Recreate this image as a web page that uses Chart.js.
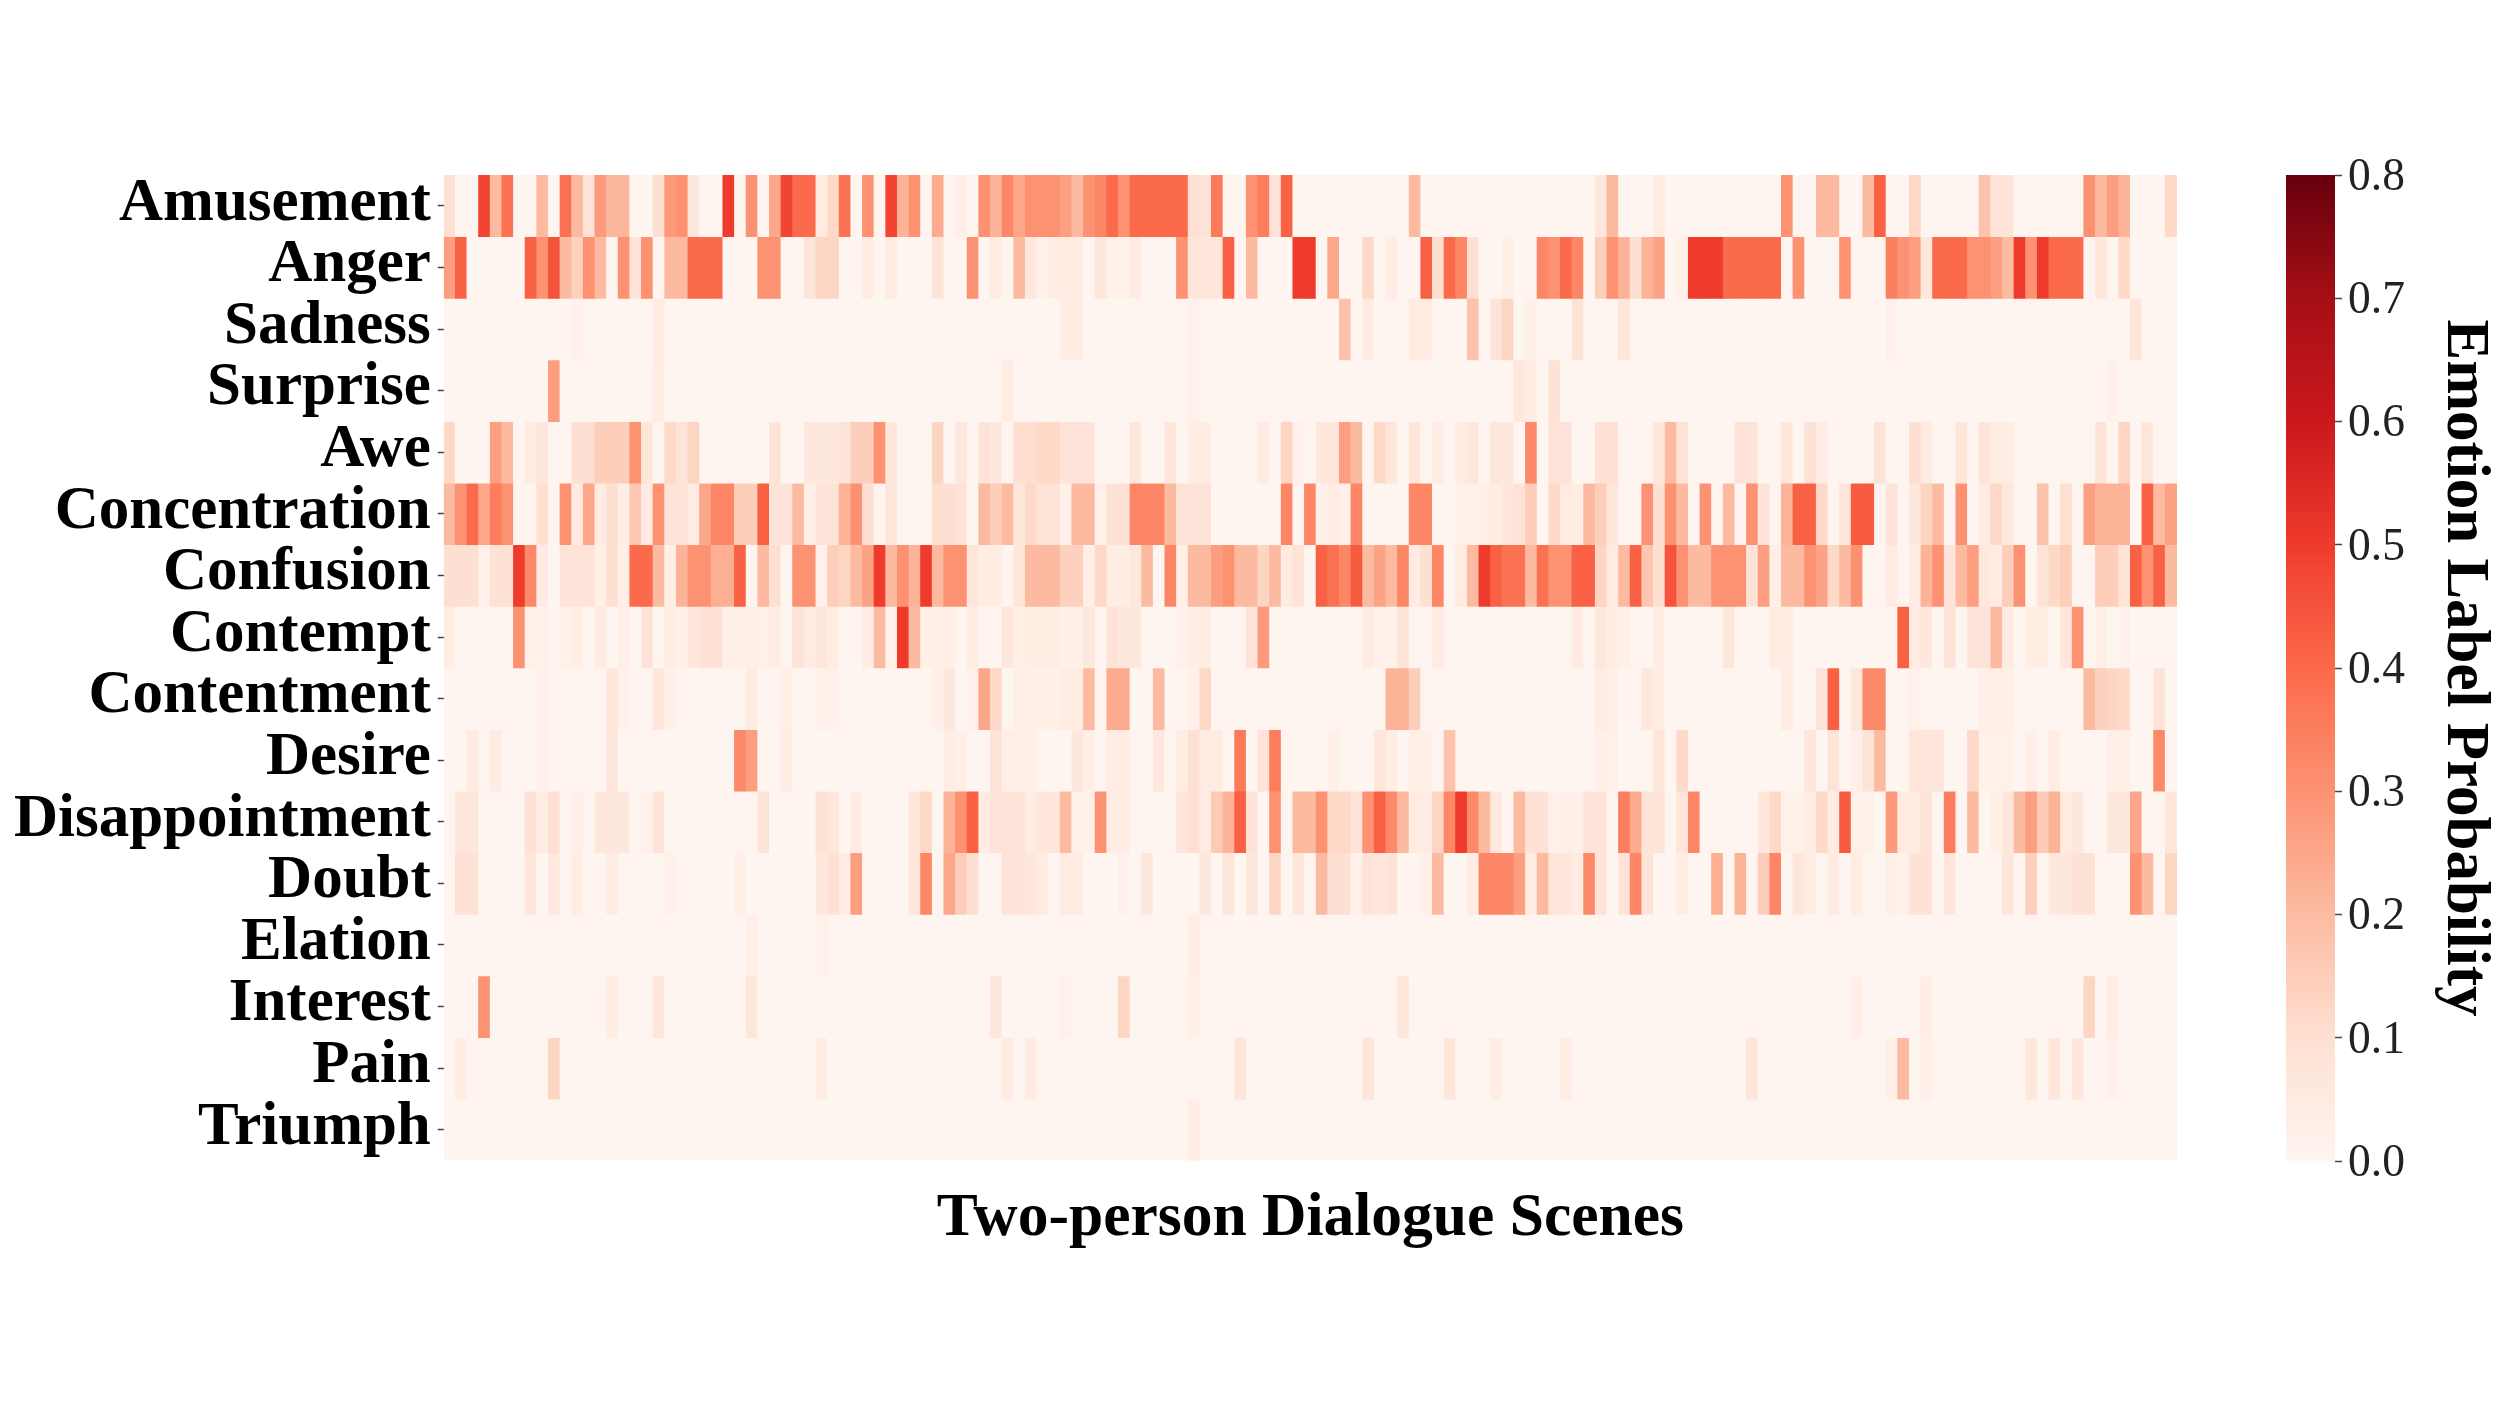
<!DOCTYPE html>
<html>
<head>
<meta charset="utf-8">
<title>Emotion Label Probability</title>
<script src="https://cdn.jsdelivr.net/npm/chart.js@4"></script>
<style>
html,body{margin:0;padding:0;background:#fff;width:2500px;height:1406px;overflow:hidden}
canvas{position:absolute;top:0}
#heat{left:0}
#bar{left:2200px}
</style>
</head>
<body>
<canvas id="heat" width="2200" height="1406"></canvas>
<canvas id="bar" width="300" height="1406"></canvas>
<script>
const emotionLabels = ["Amusement","Anger","Sadness","Surprise","Awe","Concentration","Confusion","Contempt","Contentment","Desire","Disappointment","Doubt","Elation","Interest","Pain","Triumph"];
const xTitle = "Two-person Dialogue Scenes";
const barTitle = "Emotion Label Probability";
const barTicks = [0,0.1,0.2,0.3,0.4,0.5,0.6,0.7,0.8];
const redsStops = ["#fff5f0","#fee0d2","#fcbba1","#fc9272","#fb6a4a","#ef3b2c","#cb181d","#a50f15","#67000d"];

const amusement = [
.1,0,0,.48,.2,.38,0,0,.2,0,
.38,.2,.08,.28,.21,.21,0,0,.1,.28,
.3,.06,0,0,.5,0,.3,0,.25,.48,
.4,.4,.05,.12,.38,0,.3,0,.48,.22,
.3,0,.24,0,.03,0,.3,.22,.33,.25,
.3,.3,.3,.27,.2,.3,.33,.4,.3,.4,
.4,.4,.4,.4,.1,.08,.36,0,0,.3,
.35,.08,.42,0,0,0,0,0,0,0,
0,0,0,.2,0,0,0,0,0,0,
0,0,0,0,0,0,0,0,0,.06,
.2,0,0,0,.05,0,0,0,0,0,
0,0,0,0,0,.3,0,0,.2,.2,
0,0,.2,.42,0,0,.12,0,0,0,
0,0,.18,.08,.08,0,0,0,0,0,
0,.3,.2,.27,.22,0,0,0,.12];
const anger = [
.27,.42,0,0,0,0,0,.42,.3,.45,
.2,.14,.3,.2,0,.3,.08,.3,0,.2,
.2,.4,.4,.4,0,0,0,.3,.3,0,
0,.08,.13,.13,0,0,.05,0,.05,0,
0,0,.08,0,0,.3,0,.05,0,.2,
.06,.02,.04,.05,.05,0,.07,.02,.02,.05,
0,0,0,.3,.07,.07,.07,.42,0,.2,
0,0,0,.5,.5,0,.25,0,0,.12,
0,.04,0,0,.42,.1,.4,.33,.1,0,
0,.03,0,0,.33,.3,.4,.33,0,.15,
.3,.22,.1,.22,.26,0,.03,.5,.5,.5,
.4,.4,.4,.4,.4,0,.3,0,0,0,
.3,0,0,0,.35,.3,.27,.06,.4,.4,
.4,.3,.3,.27,.2,.5,.3,.5,.4,.4,
.4,0,.07,0,.12,0,0,0,0];
const sadness = [
0,0,0,0,0,0,0,0,0,0,
0,.02,0,0,0,0,0,0,.05,0,
0,0,0,0,0,0,0,0,0,0,
0,0,0,0,0,0,0,0,0,0,
0,0,0,0,0,0,0,0,0,0,
0,0,0,.04,.04,0,0,0,0,0,
0,0,0,0,.02,0,0,0,0,0,
0,0,0,0,0,0,0,.18,0,.05,
0,0,0,.05,.05,0,0,0,.18,0,
.08,.13,0,.03,0,0,0,.08,0,0,
0,.07,0,0,0,0,0,0,0,0,
0,0,0,0,0,0,0,0,0,0,
0,0,0,0,.02,0,0,0,0,0,
0,0,0,0,0,0,0,0,0,0,
0,0,0,0,0,.07,0,0,0];
const surprise = [
0,0,0,0,0,0,0,0,0,.27,
0,0,0,0,0,0,0,0,.04,0,
0,0,0,0,0,0,0,0,0,0,
0,0,0,0,0,0,0,0,0,0,
0,0,0,0,0,0,0,0,.04,0,
0,0,0,0,0,0,0,0,0,0,
0,0,0,0,.02,0,0,0,0,0,
0,0,0,0,0,0,0,0,0,0,
0,0,0,0,0,0,0,0,0,0,
0,0,.06,.04,0,.09,0,0,0,0,
0,0,0,0,0,0,0,0,0,0,
0,0,0,0,0,0,0,0,0,0,
0,0,0,0,0,0,0,0,0,0,
0,0,0,0,0,0,0,0,0,0,
0,0,0,.02,0,0,0,0,0];
const awe = [
.12,0,0,0,.27,.2,0,.05,.07,0,
0,.1,.1,.15,.15,.15,.3,.07,0,.12,
.08,.13,0,0,0,0,0,0,.08,0,
0,.06,.06,.06,.08,.15,.15,.3,.06,0,
0,0,.13,0,.06,0,.08,.06,0,.1,
.1,.12,.12,.08,.08,.08,0,0,0,.07,
0,0,.07,0,.04,.04,0,0,0,0,
.05,0,.13,.02,0,.06,.07,.27,.2,0,
.12,.07,0,.07,0,.04,0,.05,.07,0,
.07,.06,0,.32,0,.08,.08,0,0,.09,
.09,0,0,0,.07,.2,.08,0,0,0,
0,.08,.08,0,0,.07,0,.09,.05,0,
0,0,0,.08,0,0,.1,.05,0,0,
.07,0,.08,.04,.04,0,0,0,0,0,
0,0,.08,0,.13,0,.07,0,0];
const concentration = [
.2,.3,.4,.25,.35,.3,0,0,.1,0,
.3,.05,.25,.05,.1,.04,.17,.05,.3,.08,
.08,.05,.25,.33,.33,.15,.15,.42,.08,.08,
.2,.03,.08,.08,.22,.3,.1,0,.07,0,
0,0,.1,.1,.08,0,.2,.15,.2,.07,
.12,.08,.08,.02,.2,.2,.02,.09,.09,.33,
.33,.33,.2,.08,.08,.08,0,0,0,0,
0,0,.33,0,.33,.02,.05,.02,.33,0,
0,0,0,.33,.33,0,0,.02,.02,.03,
.04,.07,.08,.15,0,.12,.05,.04,.2,.15,
.07,0,0,.3,.1,.3,.2,0,.3,0,
.2,0,.3,.08,0,.22,.42,.42,.12,0,
.07,.43,.43,0,.08,0,.06,.13,.2,0,
.3,0,.05,.12,.06,0,0,.18,0,.1,
0,.27,.22,.22,.22,0,.42,.2,.26];
const confusion = [
.1,.1,.1,.02,.09,.09,.5,.32,.05,0,
.08,.08,.08,.03,.1,.03,.4,.4,.2,.03,
.22,.3,.3,.23,.23,.42,0,.2,.1,0,
.3,.3,.02,.15,.13,.2,.26,.5,.2,.3,
.22,.5,.2,.3,.3,.07,.04,.04,0,.07,
.2,.2,.2,.14,.14,.03,.12,.04,.04,.06,
.2,0,.33,.03,.2,.2,.27,.3,.2,.2,
.13,.2,.05,.08,0,.42,.38,.33,.43,.2,
.26,.2,.33,.05,.1,.33,0,.05,.2,.5,
.42,.38,.38,.2,.38,.3,.3,.42,.42,.13,
.05,.2,.42,.17,.1,.45,.3,.2,.2,.3,
.3,.3,.08,.27,.03,.2,.2,.3,.26,.12,
.2,.3,0,0,.05,0,.04,.22,.3,.08,
.2,.27,.06,.05,.15,.3,0,.08,.12,.15,
0,0,.15,.15,.08,.42,.3,.42,.2];
const contempt = [
.04,0,0,0,0,0,.3,.02,.02,0,
.02,.04,0,.05,0,.03,0,.08,0,.04,
.02,.06,.09,.09,.02,.03,.03,.02,.04,0,
.08,.05,.07,.04,0,0,.04,.2,.02,.5,
.2,.03,.03,.03,0,.04,0,0,.07,.03,
.04,.04,.04,.03,.03,.06,0,.08,.06,.06,
0,0,0,.02,.04,.04,0,0,0,.08,
.28,0,0,0,0,0,0,0,0,.05,
.02,.02,.08,0,0,.05,0,0,0,0,
0,0,0,0,0,0,0,.05,0,.06,
.04,.03,0,0,.04,0,0,0,0,0,
.07,0,0,0,.05,.05,0,0,0,0,
0,0,0,0,0,.42,.05,.06,0,.08,
0,.08,.08,.2,.05,0,.04,.04,0,.07,
.3,0,.03,0,.02,0,0,0,0];
const contentment = [
0,0,0,0,0,0,0,0,.02,0,
0,0,0,0,.07,.02,0,0,.07,.02,
0,0,0,0,0,0,.05,0,0,.03,
0,0,.02,.02,0,0,0,0,0,0,
0,0,.03,.06,0,.02,.25,.12,0,.03,
.03,.03,.03,.04,.04,.2,0,.24,.24,0,
0,.2,0,0,.02,.12,0,0,0,0,
0,0,0,0,0,0,0,0,0,0,
0,.22,.22,.15,0,0,0,0,0,0,
0,0,0,0,0,0,0,0,0,.05,
.03,0,0,.06,.04,0,0,0,0,0,
0,0,0,0,0,.05,0,0,.08,.42,
0,.07,.32,.32,0,0,.02,0,0,0,
0,0,.03,.03,.03,0,0,0,0,0,
0,.2,.14,.13,.12,0,0,.08,0];
const desire = [
0,0,.05,0,.05,0,0,0,.02,0,
0,0,0,0,.07,0,0,0,0,0,
0,0,0,0,0,.32,.27,0,0,.04,
0,0,0,0,0,0,0,0,0,0,
0,0,0,.04,.03,0,0,.08,.03,.03,
.03,0,0,0,.06,.03,0,.04,.04,0,
0,.06,0,.04,.1,.05,.05,0,.36,0,
.08,.35,0,0,0,0,.03,0,0,0,
.07,.04,0,.03,.03,0,.18,0,0,0,
0,0,0,0,0,0,0,0,0,.03,
.02,0,0,0,.07,0,.12,0,0,0,
0,0,0,0,0,0,0,.07,0,.08,
0,.03,.08,.2,0,0,.07,.07,.07,0,
0,.12,.02,.02,.02,0,.03,0,.04,0,
0,0,0,.03,.03,0,0,.32,0];
const disappointment = [
0,.07,.07,0,0,0,0,.09,.04,.1,
0,.03,0,.06,.06,.06,0,.02,.08,0,
0,0,0,0,0,0,0,.08,0,0,
0,0,.09,.07,0,.05,0,0,0,0,
.07,.12,0,.22,.3,.42,.05,.08,.08,.08,
.04,.07,.07,.2,.02,.02,.3,.04,.04,0,
0,0,0,.07,.1,.05,.16,.22,.42,.08,
0,.3,0,.2,.2,.3,.12,.12,.08,.3,
.42,.32,.2,.05,.05,.13,.33,.5,.32,.2,
.06,0,.2,.09,.09,.02,.03,.02,.08,.08,
0,.35,.24,.08,.08,0,.07,.33,0,0,
0,0,0,.07,.12,.02,.02,.04,.12,.05,
.43,.02,.02,0,.28,.05,.04,.08,0,.35,
0,.2,0,.03,.07,.2,.27,.16,.22,.05,
.06,0,0,.06,.06,.25,0,0,.07];
const doubt = [
0,.09,.09,0,0,0,0,.07,0,.06,
0,.04,0,0,.05,0,0,0,0,.02,
0,0,0,0,0,.03,0,0,0,0,
0,0,.06,.1,.04,.27,0,0,0,0,
.07,.33,0,.25,.15,.1,0,0,.08,.08,
.07,.05,0,.05,.05,0,0,0,.02,0,
.06,0,0,0,0,.06,0,.07,0,.07,
0,.13,0,.07,0,.2,.1,.1,.02,.08,
.06,.08,0,0,.03,.2,0,0,.04,.33,
.33,.33,.27,.04,.2,.07,.07,.05,.32,.08,
0,.08,.33,.08,0,0,.04,0,0,.23,
0,.22,0,.15,.33,0,.07,.04,0,.05,
0,.04,0,0,.03,.02,.09,.09,0,.07,
0,0,0,0,.07,0,.14,0,.06,.06,
.09,.09,0,0,0,.3,.2,0,.13];
const elation = [
0,0,0,0,0,0,0,0,0,0,
0,.01,0,0,0,0,0,0,.01,0,
0,0,0,0,0,0,.03,0,0,0,
0,0,.02,0,0,0,0,0,0,0,
0,0,0,0,0,0,0,0,0,0,
0,0,0,0,0,0,0,0,0,0,
0,0,0,0,.04,0,0,0,0,0,
0,0,0,0,0,0,0,0,0,0,
0,0,0,0,0,0,0,0,0,0,
0,0,0,0,0,0,0,0,0,0,
0,0,0,0,0,0,0,0,0,0,
0,0,0,0,0,0,0,0,0,0,
0,0,0,0,0,0,0,0,0,0,
0,0,0,0,0,0,0,0,0,0,
0,0,0,0,0,0,0,0,0];
const interest = [
0,0,0,.3,0,0,0,0,0,0,
0,0,0,0,.04,0,0,0,.07,0,
0,0,0,0,0,0,.07,0,0,0,
0,0,0,0,0,0,0,0,0,0,
0,0,0,0,0,0,0,.07,0,0,
0,0,0,.02,0,0,0,0,.13,0,
0,0,0,0,.03,0,0,0,0,0,
0,0,0,0,0,0,0,0,0,0,
0,0,.07,0,0,0,0,0,0,0,
0,0,0,0,0,0,0,0,0,0,
0,0,0,0,0,0,0,0,0,0,
0,0,0,0,0,0,0,0,0,0,
0,.03,0,0,0,0,0,.04,0,0,
0,0,0,0,0,0,0,0,0,0,
0,.13,0,.04,0,0,0,0,0];
const pain = [
0,.04,0,0,0,0,0,0,0,.13,
0,0,0,0,0,0,0,0,0,0,
0,0,0,0,0,0,0,0,0,0,
0,0,.04,0,0,0,0,0,0,0,
0,0,0,0,0,0,0,0,.05,0,
.05,0,0,0,0,0,0,0,0,0,
0,0,0,0,0,0,0,0,.07,0,
0,0,0,0,0,0,0,0,0,.07,
0,0,0,0,0,0,.07,0,0,0,
.04,0,0,0,0,0,.04,0,0,0,
0,0,0,0,0,0,0,0,0,0,
0,0,.07,0,0,0,0,0,0,0,
0,0,0,0,.03,.2,0,.03,0,0,
0,0,0,0,0,0,.07,0,.07,0,
.07,0,0,.02,0,0,0,0,0];
const triumph = [
0,0,0,0,0,0,0,0,0,0,
0,0,0,0,0,0,0,0,0,0,
0,0,0,0,0,0,0,0,0,0,
0,0,0,0,0,0,0,0,0,0,
0,0,0,0,0,0,0,0,0,0,
0,0,0,0,0,0,0,0,0,0,
0,0,0,0,.04,0,0,0,0,0,
0,0,0,0,0,0,0,0,0,0,
0,0,0,0,0,0,0,0,0,0,
0,0,0,0,0,0,0,0,0,0,
0,0,0,0,0,0,0,0,0,0,
0,0,0,0,0,0,0,0,0,0,
0,0,0,0,0,0,0,0,0,0,
0,0,0,0,0,0,0,0,0,0,
0,0,0,0,0,0,0,0,0];

const rows = [amusement,anger,sadness,surprise,awe,concentration,confusion,contempt,contentment,desire,disappointment,doubt,elation,interest,pain,triumph];
rows.forEach((r,i)=>{ if(r.length!==149) throw new Error(emotionLabels[i]+" has "+r.length); });
const scenes = amusement.map((_,i)=>String(i+1));

function hexRgb(h){ return [1,3,5].map(i=>parseInt(h.substr(i,2),16)); }
function reds(v){
  const t = Math.max(0,Math.min(1,v/0.8))*(redsStops.length-1);
  const i = Math.min(Math.floor(t),redsStops.length-2), f = t-i;
  const a = hexRgb(redsStops[i]), b = hexRgb(redsStops[i+1]);
  return "rgb("+a.map((c,k)=>Math.round(c+(b[k]-c)*f)).join(",")+")";
}

const SERIF = "'Liberation Serif','Times New Roman',serif";
Chart.defaults.animation = false;
Chart.defaults.responsive = false;

new Chart(document.getElementById("heat"),{
  type:"bar",
  data:{
    labels:scenes,
    datasets:rows.map((vals,r)=>({
      label:emotionLabels[r],
      data:vals.map(()=>[r,r+1]),
      backgroundColor:vals.map(reds),
      borderWidth:0,
      inflateAmount:0.5,
      grouped:false,
      barPercentage:1,
      categoryPercentage:1
    }))
  },
  options:{
    layout:{autoPadding:false,padding:{left:0,right:23,top:175,bottom:150.4}},
    plugins:{legend:{display:false},tooltip:{enabled:false},title:{display:false}},
    scales:{
      x:{
        type:"category",
        grid:{display:false},
        border:{display:false},
        ticks:{display:false},
        title:{display:true,text:xTitle,color:"#000",padding:0,font:{family:SERIF,size:61.5,weight:"bold"}},
        afterFit(s){ s.height=95; }
      },
      y:{
        type:"linear",
        min:0,max:emotionLabels.length,reverse:true,
        grid:{display:true,drawOnChartArea:false,drawTicks:true,tickLength:6,tickWidth:1.5,tickColor:"#444"},
        border:{display:false},
        afterBuildTicks(s){ s.ticks=emotionLabels.map((_,i)=>({value:i+0.5})); },
        ticks:{
          autoSkip:false,color:"#000",padding:7,labelOffset:-2,
          font:{family:SERIF,size:61,weight:"bold"},
          callback(v){ return emotionLabels[Math.round(v-0.5)]; }
        },
        afterFit(s){ s.width=443.8; }
      }
    }
  }
});

new Chart(document.getElementById("bar"),{
  type:"bar",
  data:{
    labels:["scale"],
    datasets:[{
      data:[[barTicks[0],barTicks[barTicks.length-1]]],
      borderWidth:0,
      barPercentage:1,
      categoryPercentage:1,
      backgroundColor(ctx){
        const a=ctx.chart.chartArea;
        if(!a) return redsStops[0];
        const g=ctx.chart.ctx.createLinearGradient(0,a.bottom,0,a.top);
        redsStops.forEach((c,i)=>g.addColorStop(i/(redsStops.length-1),c));
        return g;
      }
    }]
  },
  options:{
    layout:{autoPadding:false,padding:{left:86,right:0,top:175,bottom:245}},
    plugins:{legend:{display:false},tooltip:{enabled:false},title:{display:false}},
    scales:{
      x:{display:false},
      y:{
        position:"right",min:0,max:0.8,
        grid:{display:true,drawOnChartArea:false,drawTicks:true,tickLength:7,tickWidth:1.5,tickColor:"#444"},
        border:{display:false},
        afterBuildTicks(s){ s.ticks=barTicks.map(v=>({value:v})); },
        ticks:{autoSkip:false,color:"#222",padding:6,labelOffset:3,font:{family:SERIF,size:45.5},callback(v){return v.toFixed(1);}},
        title:{display:true,text:barTitle,color:"#000",padding:0,font:{family:SERIF,size:61,weight:"bold"}},
        afterFit(s){ s.width=165; }
      }
    }
  }
});
</script>
</body>
</html>
